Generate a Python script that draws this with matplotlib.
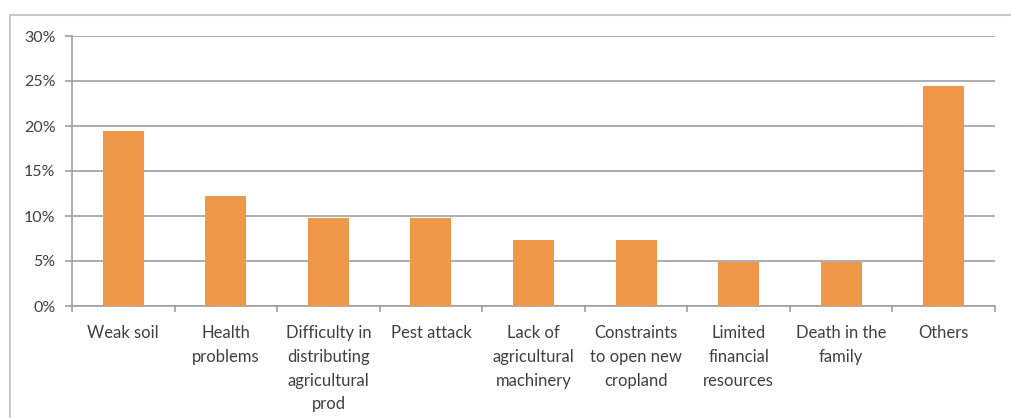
import matplotlib.pyplot as plt
import numpy as np
from matplotlib.patches import Rectangle
from matplotlib.ticker import FuncFormatter, FixedLocator

# share of respondents by reason
reasons = [
    "Weak soil",
    "Health\nproblems",
    "Difficulty in\ndistributing\nagricultural\nprod",
    "Pest attack",
    "Lack of\nagricultural\nmachinery",
    "Constraints\nto open new\ncropland",
    "Limited\nfinancial\nresources",
    "Death in the\nfamily",
    "Others",
]
shares = [19.5, 12.2, 9.8, 9.8, 7.3, 7.3, 4.9, 4.9, 24.4]

plt.rcParams['font.family'] = ['Lato', 'DejaVu Sans']

fig = plt.figure(figsize=(10.12, 4.18), dpi=100)
ax = fig.add_axes([72 / 1012, 1 - 306 / 418, (995 - 72) / 1012, 270 / 418])

# outer chart frame
fig.patches.append(Rectangle((10 / 1012, -0.05), 1.1, 1 - 15 / 418 + 0.05,
                             transform=fig.transFigure, fill=False,
                             edgecolor='#c8c8c8', linewidth=1.5))

x = np.arange(len(reasons))
ax.bar(x, shares, width=0.4, color='#f0984a', zorder=3)

ax.set_xlim(-0.5, len(reasons) - 0.5)
ax.set_ylim(0, 30)
ax.set_yticks(np.arange(0, 31, 5))
ax.yaxis.set_major_formatter(FuncFormatter(lambda v, p: f"{v:.0f}%"))
ax.grid(axis='y', color='#a0a0a0', linewidth=1.2, zorder=0)

ax.set_xticks(x)
ax.set_xticklabels(reasons, fontsize=12, color='#404040', linespacing=1.58,
                   va='top')
ax.xaxis.set_minor_locator(FixedLocator(np.arange(-0.5, len(reasons), 1)))
ax.tick_params(axis='x', which='major', length=0, pad=14)
ax.tick_params(axis='x', which='minor', length=4, color='#a0a0a0', width=1.2)
ax.tick_params(axis='y', length=5, color='#a0a0a0', width=1.2,
               labelsize=11.5, labelcolor='#404040', pad=7)

for side in ['top', 'right']:
    ax.spines[side].set_visible(False)
for side in ['left', 'bottom']:
    ax.spines[side].set_color('#a0a0a0')
    ax.spines[side].set_linewidth(1.2)

fig.savefig("out.png", dpi=100)
